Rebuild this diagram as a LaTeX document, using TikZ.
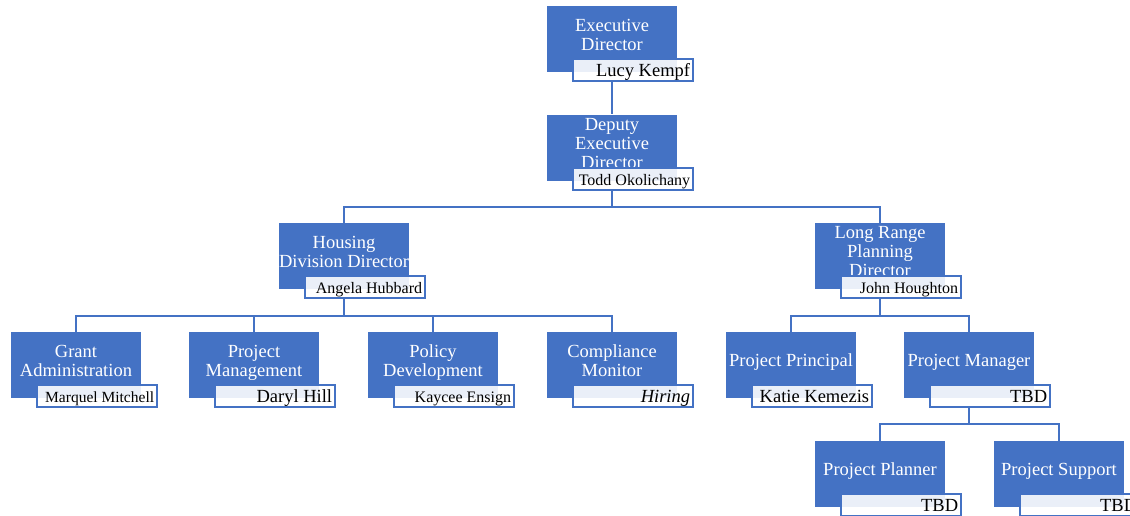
\documentclass[tikz,border=0pt]{standalone}
\usepackage{fontspec}
\setmainfont{Liberation Serif}
\definecolor{orgblue}{HTML}{4472C4}
\tikzset{
  bbox/.style={fill=orgblue, draw=none, minimum width=130pt, minimum height=66pt, inner sep=0pt},
  ttl/.style={text=white, inner sep=0pt, anchor=base, font=\fontsize{18.5}{19}\selectfont},
  nbox/.style={draw=orgblue, line width=2pt, fill=white, fill opacity=0.89, minimum width=120pt, minimum height=22pt, inner sep=0pt},
  ntxt/.style={text=black, inner sep=0pt},
  conn/.style={draw=orgblue, line width=2.3pt}
}
% #1 name, #2 cx, #3 cy, #4 number of lines, #5 lines, #6 person, #7 size
\newcommand\orgunit[7]{%
  \node[bbox] (#1) at (#2,#3) {};
  \foreach \ln [count=\i] in {#5} {
    \node[ttl] (#1-t\i) at (#2,{#3+1.5-(#4-1)*9.5+(\i-1)*19}) {\ln};
  }
  \node[nbox, anchor=north west] (#1-n) at ([xshift=25pt,yshift=14pt]#1.south west) {};
  \node[ntxt, anchor=base east, font=\fontsize{#7}{#7}\selectfont] (#1-p) at ([xshift=-3.5pt,yshift=5.5pt]#1-n.south east) {#6};
}
\begin{document}
\begin{tikzpicture}[x=1pt,y=-1pt]
\useasboundingbox (0,0) rectangle (1130,515);
\clip (0,0) rectangle (1130,515);
\orgunit{exec}{612}{39}{2}{Executive,Director}{Lucy Kempf}{18.5}
\orgunit{dep}{612}{147.5}{3}{Deputy,Executive,Director}{Todd Okolichany}{16}
\orgunit{house}{344}{256}{2}{Housing,Division Director}{Angela Hubbard}{16}
\orgunit{lrp}{880}{256}{3}{Long Range,Planning,Director}{John Houghton}{16}
\orgunit{grant}{76}{365}{2}{Grant,Administration}{Marquel Mitchell}{15.5}
\orgunit{pm}{254}{365}{2}{Project,Management}{Daryl Hill}{18.5}
\orgunit{policy}{433}{365}{2}{Policy,Development}{Kaycee Ensign}{16}
\orgunit{comp}{612}{365}{2}{Compliance,Monitor}{\textit{Hiring}}{18.5}
\orgunit{pp}{791}{365}{1}{Project Principal}{Katie Kemezis}{18.5}
\orgunit{pmgr}{969}{365}{1}{Project Manager}{TBD}{18.5}
\orgunit{plan}{880}{474}{1}{Project Planner}{TBD}{18.5}
\orgunit{sup}{1059}{474}{1}{Project Support}{TBD}{18.5}
% connectors
\draw[conn] (exec.center |- exec-n.south) -- (dep.north);
\draw[conn] (dep.center |- dep-n.south) -- ++(0,16) coordinate (depbus) -| (house.north);
\draw[conn] (depbus) -| (lrp.north);
\draw[conn] (house.center |- house-n.south) -- ++(0,17) coordinate (housebus) -| (grant.north);
\draw[conn] (housebus) -| (pm.north);
\draw[conn] (housebus) -| (policy.north);
\draw[conn] (housebus) -| (comp.north);
\draw[conn] (lrp.center |- lrp-n.south) -- ++(0,17) coordinate (lrpbus) -| (pp.north);
\draw[conn] (lrpbus) -| (pmgr.north);
\draw[conn] (pmgr.center |- pmgr-n.south) -- ++(0,16) coordinate (pmbus) -| (plan.north);
\draw[conn] (pmbus) -| (sup.north);
\end{tikzpicture}
\end{document}
